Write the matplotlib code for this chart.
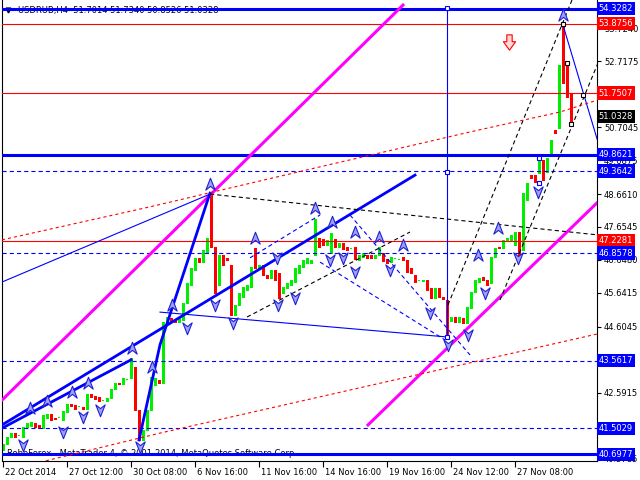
import numpy as np
import matplotlib
matplotlib.use('Agg')
import matplotlib.pyplot as plt
import matplotlib.transforms as mtransforms
from matplotlib.path import Path

plt.rcParams['font.family'] = ['DejaVu Sans']
plt.rcParams['lines.scale_dashes'] = False

# USDRUB H4 candles
opens = [40.83, 41.02, 41.23, 41.35, 41.26, 41.23, 41.54, 41.57, 41.66, 41.60,
         41.51, 41.81, 41.94, 41.81, 41.80, 41.75, 42.00, 42.24, 42.21, 42.14,
         42.15, 42.09, 42.55, 42.48, 42.45, 42.33, 42.33, 42.42, 42.70, 42.88,
         42.85, 42.97, 43.04, 43.37, 42.06, 41.20, 41.45, 42.06, 42.82, 42.97,
         42.88, 44.75, 44.87, 44.81, 44.75, 44.81, 45.33, 45.88, 46.34, 46.71,
         46.58, 46.86, 47.50, 47.04, 46.40, 46.80, 46.71, 46.49, 44.96, 45.27,
         45.51, 45.73, 45.82, 46.46, 46.40, 46.49, 46.19, 46.09, 46.34, 46.24,
         45.63, 45.79, 45.88, 45.97, 46.24, 46.43, 46.55, 46.55, 46.80, 47.32,
         47.29, 47.10, 46.86, 47.29, 47.04, 47.16, 47.04, 46.98, 47.04, 46.64,
         46.74, 46.80, 46.80, 46.71, 46.80, 46.86, 46.67, 46.58, 46.67, 46.64,
         46.71, 46.64, 46.40, 46.19, 46.00, 46.00, 46.03, 45.79, 45.48, 45.79,
         45.51, 45.42, 44.78, 44.90, 44.75, 44.87, 44.72, 45.18, 45.66, 45.97,
         46.12, 46.03, 45.94, 46.74, 47.04, 47.01, 47.26, 47.26, 47.10, 47.50,
         46.95, 48.63, 49.24, 49.24, 49.30, 49.70, 49.34, 49.86, 50.62, 50.68,
         52.30, 52.06, 51.7014]
closes = [41.02, 41.23, 41.35, 41.23, 41.27, 41.54, 41.66, 41.69, 41.54, 41.51,
          41.90, 41.94, 41.75, 41.78, 41.81, 42.03, 42.24, 42.18, 42.09, 42.15,
          42.09, 42.55, 42.45, 42.39, 42.33, 42.34, 42.42, 42.70, 42.88, 42.85,
          43.04, 42.98, 43.43, 42.06, 41.29, 41.45, 42.06, 42.97, 43.04, 42.88,
          44.75, 44.90, 44.75, 44.75, 44.87, 45.33, 45.94, 46.40, 46.71, 46.58,
          46.95, 47.32, 47.04, 46.40, 46.80, 46.49, 46.64, 44.96, 45.27, 45.63,
          45.82, 45.88, 46.43, 46.40, 46.49, 46.19, 46.09, 46.34, 46.03, 45.63,
          45.82, 45.94, 46.03, 46.40, 46.49, 46.64, 46.71, 46.64, 47.20, 47.04,
          47.10, 47.26, 47.26, 47.04, 47.16, 46.98, 46.95, 46.99, 46.67, 46.80,
          46.86, 46.71, 46.71, 46.80, 46.89, 46.61, 46.55, 46.74, 46.68, 46.65,
          46.64, 46.27, 46.24, 45.97, 46.01, 46.02, 45.73, 45.48, 45.79, 45.51,
          45.45, 44.81, 44.90, 44.75, 44.90, 44.72, 45.21, 45.66, 46.03, 46.09,
          46.03, 45.88, 46.74, 47.01, 47.01, 47.26, 47.32, 47.41, 47.50, 46.89,
          48.69, 49.00, 49.15, 49.03, 49.70, 49.34, 49.76, 50.31, 50.53, 52.24,
          52.06, 51.63, 51.0328]
wick_hi = {32: 43.65, 37: 43.07, 52: 48.66, 63: 47.01, 78: 47.90, 82: 47.47,
           94: 47.04, 100: 46.74, 139: 52.61, 140: 53.88, 141: 52.67, 142: 51.734}
wick_lo = {34: 41.14, 35: 41.14, 53: 45.63, 54: 45.88, 69: 45.48, 111: 44.29,
           129: 46.64, 131: 48.48, 135: 49.09, 142: 50.8526}

# horizontal levels with price labels on the scale
level_prices = [54.3282, 53.8756, 51.7507, 49.8621, 49.3642, 47.2281,
                46.8578, 43.5617, 41.5029, 40.6977]
level_colors = ['#0000ff', '#ff0000', '#ff0000', '#0000ff', '#0000ff', '#ff0000',
                '#0000ff', '#0000ff', '#0000ff', '#0000ff']
level_styles = ['thick', 'solid', 'solid', 'thick', 'dash', 'solid',
                'dash', 'dash', 'dash', 'thick']
bid_price = 51.0328

# scale values that peek out from behind the level labels
tick_prices = [53.7240, 52.7175, 50.7045, 49.6875, 48.6610, 47.6545,
               46.6480, 45.6415, 44.6045, 42.5915, 40.5785]
time_ticks = [0, 16, 32, 48, 64, 80, 96, 112, 128]
time_labels = ['22 Oct 2014', '27 Oct 12:00', '30 Oct 08:00', '6 Nov 16:00',
               '11 Nov 16:00', '14 Nov 16:00', '19 Nov 16:00', '24 Nov 12:00',
               '27 Nov 08:00']

# trend lines: (bar index list, price list)
magenta_lines = [([-0.25, 100], [42.36, 54.44]),
                 ([91.25, 148.75], [41.60, 48.42])]
blue_thick_lines = [([-0.25, 103], [41.60, 49.24]),
                    ([-0.25, 32], [41.50, 43.59]),
                    ([34, 39.25, 51.75], [41.14, 44.05, 48.69])]
blue_thin_lines = [([-0.25, 51.75], [45.97, 48.66]),
                   ([39.25, 111], [45.05, 44.29]),
                   ([140, 148.75], [53.83, 50.25]),
                   ([111, 111], [54.35, 44.29])]
blue_dash_lines = [([61.75, 79.25], [46.71, 48.02]),
                   ([86.75, 116.75], [48.02, 43.74]),
                   ([79.25, 110.5], [46.58, 44.20])]
black_dash_lines = [([51.75, 148.75], [48.66, 47.41]),
                    ([61, 101.75], [44.90, 47.50]),
                    ([111.25, 142.25], [45.27, 54.595]),
                    ([124.25, 148.75], [45.42, 52.67])]
red_dot_lines = [([-0.25, 36.75, 76, 116.75, 139.25, 148.75],
                  [47.26, 48.27, 49.40, 50.56, 51.17, 51.54]),
                 ([9.25, 39.25, 148.5], [40.46, 41.35, 44.38])]

up_arrows_x = [6.75, 11, 17.25, 21.25, 32.25, 37.25, 42.25, 51.75, 63, 78,
               82.25, 88, 94, 100, 118.75, 123.75, 140]
up_arrows_y = [42.12, 42.33, 42.61, 42.88, 43.95, 43.37, 45.27, 48.97, 47.32,
               48.23, 47.81, 47.50, 47.35, 47.10, 46.80, 47.62, 54.14]
dn_arrows_x = [5, 15, 20, 24.25, 34.25, 46, 53, 57.5, 68.5, 68.75, 73, 81.75,
               85, 88, 96.75, 106.75, 111.25, 116.25, 120.5, 128.75, 133.75]
dn_arrows_y = [40.99, 41.38, 41.84, 42.06, 40.93, 44.56, 45.27, 44.72, 46.71,
               45.27, 45.48, 46.64, 46.71, 46.27, 46.34, 45.02, 44.04, 44.35,
               45.63, 46.71, 48.72]
blue_boxes_x = [111, 111, 111, 134, 134]
blue_boxes_y = [54.35, 49.33, 44.29, 49.76, 49.00]
black_boxes_x = [140, 141, 142, 145]
black_boxes_y = [53.86, 52.67, 50.80, 51.69]

fig = plt.figure(figsize=(6.4, 4.8), dpi=100)
ax = fig.add_axes([2 / 640, 19 / 480, 595 / 640, 461 / 480])
ax.set_xlim(-0.25, 148.5)
ax.set_ylim(40.497, 54.595)

# candles
o = np.array(opens)
c = np.array(closes)
idx = np.arange(len(o))
hi = np.maximum(o, c)
lo = np.minimum(o, c)
for k, v in wick_hi.items():
    hi[k] = v
for k, v in wick_lo.items():
    lo[k] = v
col = np.where(c >= o, '#00ee00', '#ff0000')
ax.vlines(idx, lo, hi, colors=col, lw=0.75, zorder=2, antialiased=False)
ax.bar(idx, np.maximum(np.abs(c - o), 0.03), bottom=np.minimum(o, c),
       width=0.7, color=col, linewidth=0, zorder=2, antialiased=False)

dash = (0, (3, 2.2))
dot = (0, (2.2, 2.2))

for p, clr, st in zip(level_prices, level_colors, level_styles):
    if st == 'thick':
        ax.axhline(p, color=clr, lw=2.2, zorder=4)
    elif st == 'dash':
        ax.axhline(p, color=clr, lw=0.8, ls=dash, zorder=4)
    else:
        ax.axhline(p, color=clr, lw=0.8, zorder=4)

for xs, ys in magenta_lines:
    ax.plot(xs, ys, color='#ff00ff', lw=2.2, zorder=4)
for xs, ys in blue_thick_lines:
    ax.plot(xs, ys, color='#0000ff', lw=2.0, zorder=4)
for xs, ys in blue_thin_lines:
    ax.plot(xs, ys, color='#0000ff', lw=0.8, zorder=4)
for xs, ys in blue_dash_lines:
    ax.plot(xs, ys, color='#0000ff', lw=0.8, ls=dash, zorder=4)
for xs, ys in black_dash_lines:
    ax.plot(xs, ys, color='black', lw=0.8, ls=dash, zorder=4)
for xs, ys in red_dot_lines:
    ax.plot(xs, ys, color='#ff0000', lw=0.8, ls=dot, zorder=4)

# MT4 style arrow glyphs
up_path = Path([(0, 1), (0.75, -0.9), (0, -0.3), (-0.75, -0.9), (0, 1)],
               [Path.MOVETO, Path.LINETO, Path.LINETO, Path.LINETO, Path.CLOSEPOLY])
dn_path = Path([(0, -1), (0.75, 0.9), (0, 0.3), (-0.75, 0.9), (0, -1)],
               [Path.MOVETO, Path.LINETO, Path.LINETO, Path.LINETO, Path.CLOSEPOLY])
ax.plot(up_arrows_x, up_arrows_y, ls='none', marker=up_path, ms=9,
        mfc='#a0a0ff', mec='#2020d0', mew=0.8, zorder=5)
ax.plot(dn_arrows_x, dn_arrows_y, ls='none', marker=dn_path, ms=9,
        mfc='#a0a0ff', mec='#2020d0', mew=0.8, zorder=5)
ax.plot(blue_boxes_x, blue_boxes_y, ls='none', marker='s', ms=3.5,
        mfc='white', mec='#0000ff', mew=0.8, zorder=5)
ax.plot(black_boxes_x, black_boxes_y, ls='none', marker='s', ms=3.5,
        mfc='white', mec='black', mew=0.8, zorder=5)

# hollow red down arrow (sell signal)
sell_path = Path([(-0.35, 1), (0.35, 1), (0.35, 0.1), (0.8, 0.1), (0, -1),
                  (-0.8, 0.1), (-0.35, 0.1), (-0.35, 1)],
                 [Path.MOVETO] + [Path.LINETO] * 6 + [Path.CLOSEPOLY])
ax.plot([126.5], [53.31], ls='none', marker=sell_path, ms=11,
        mfc='#ffd8d8', mec='#ff0000', mew=0.8, zorder=5)

# axes styling
for s in ['left', 'right', 'bottom']:
    ax.spines[s].set_color('black')
    ax.spines[s].set_linewidth(0.8)
ax.spines['top'].set_visible(False)
ax.yaxis.tick_right()
ax.set_yticks(tick_prices)
ax.set_yticklabels(['%.4f' % t for t in tick_prices])
ax.tick_params(axis='y', direction='out', length=3, width=0.8, labelsize=6, pad=2)
ax.set_xticks(time_ticks)
ax.set_xticklabels(time_labels)
ax.tick_params(axis='x', direction='out', length=4, width=0.8, labelsize=6, pad=1)
shift = mtransforms.ScaledTranslation(2 / 100, 0, fig.dpi_scale_trans)
for lbl in ax.get_xticklabels():
    lbl.set_horizontalalignment('left')
    lbl.set_transform(lbl.get_transform() + shift)

# price labels on the scale
btr = mtransforms.blended_transform_factory(ax.transAxes, ax.transData)
for p, clr in zip(level_prices, level_colors):
    ax.text(1.003, p, '%.4f' % p, transform=btr, ha='left', va='center',
            fontsize=6, color='white', clip_on=False, zorder=6,
            bbox=dict(boxstyle='square,pad=0.25', fc=clr, ec='none'))
ax.text(1.003, bid_price, '%.4f' % bid_price, transform=btr, ha='left',
        va='center', fontsize=6, color='white', clip_on=False, zorder=6,
        bbox=dict(boxstyle='square,pad=0.25', fc='black', ec='none'))

# header and copyright text
ax.plot([1.3], [54.30], marker='v', ms=3.5, color='black', ls='none', zorder=3)
ax.text(16 / 595, 1 - 10 / 461, 'USDRUB,H4  51.7014 51.7340 50.8526 51.0328',
        transform=ax.transAxes, fontsize=6, va='center', ha='left', zorder=3)
ax.text(5 / 595, 1 - 454 / 461,
        'RoboForex - MetaTrader 4, \u00a9 2001-2014, MetaQuotes Software Corp.',
        transform=ax.transAxes, fontsize=6, va='center', ha='left', zorder=3)

fig.savefig('out.png', dpi=100, facecolor='white')
